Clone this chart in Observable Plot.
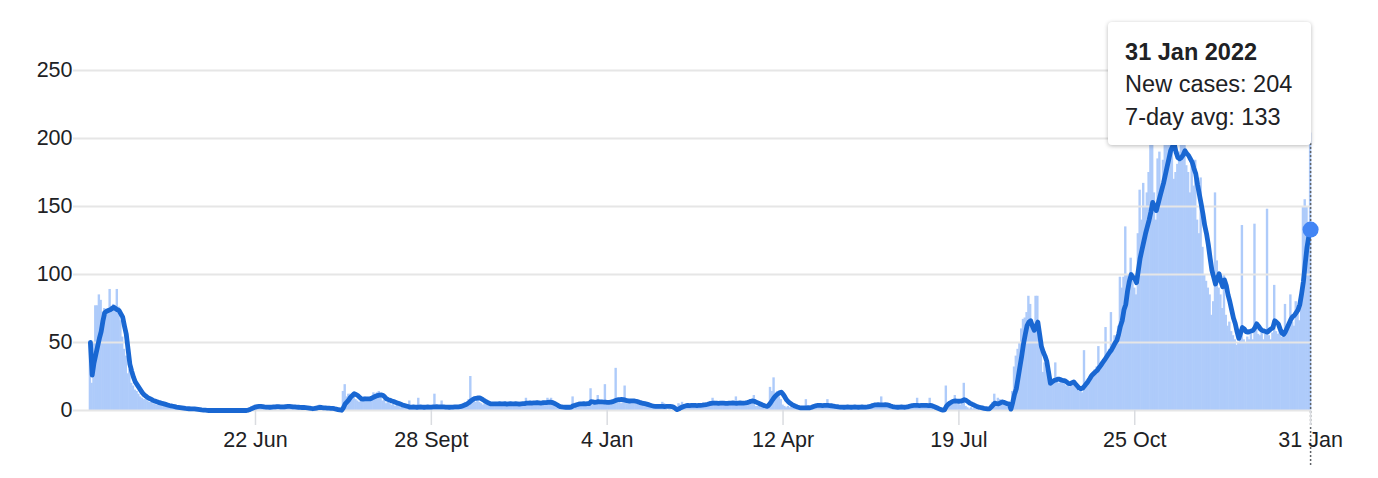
<!DOCTYPE html>
<html><head><meta charset="utf-8">
<script src="https://cdn.jsdelivr.net/npm/d3@7"></script>
<script src="https://cdn.jsdelivr.net/npm/@observablehq/plot@0.6"></script>
<style>
html,body{margin:0;padding:0;background:#fff;}
#wrap{position:relative;width:1378px;height:478px;font-family:"Liberation Sans",Arial,sans-serif;}
#tip{position:absolute;box-sizing:border-box;background:#fff;border-radius:4px;box-shadow:0 1px 4px rgba(0,0,0,0.28);color:#202124;font-size:23.5px;line-height:32.5px;padding:13.6px 17px 12px 17px;white-space:nowrap;}
#tip b{font-weight:bold;}
</style></head><body><div id="wrap"></div>
<script>
// first day of the series
const startDate = "2020-03-22";

// daily new cases, 22 Mar 2020 -> 31 Dec 2020
const cases2020 = [
  50,20,50,77,77,85,81,72,75,74,
  75,89,76,78,74,89,76,66,54,45,40,27,30,20,18,15,14,12,10,9,8,8,7,6,6,5,5,4,5,4,
  4,5,3,4,3,2,3,2,2,3,1,2,1,1,2,1,1,0,1,2,1,0,1,0,0,1,0,0,0,0,0,
  0,0,0,0,0,0,0,0,0,0,0,0,0,0,0,0,0,1,2,3,1,4,2,3,3,2,1,3,2,2,
  3,2,3,4,2,3,3,2,4,3,2,3,2,2,3,2,2,1,2,3,2,1,1,0,1,2,3,4,3,2,2,
  2,1,0,0,0,0,0,0,0,14,19,10,12,12,9,10,8,7,6,8,9,10,8,9,8,10,13,12,13,14,12,
  7,8,5,6,5,4,5,3,4,3,2,3,2,2,1,7,2,1,2,1,9,2,1,2,3,1,2,3,2,12,
  2,3,2,7,2,3,2,1,2,3,2,3,2,3,4,5,6,5,8,25,7,9,6,8,6,5,4,5,7,4,5,
  5,4,6,5,4,5,6,4,5,5,4,6,5,4,5,6,4,5,5,9,4,6,5,5,6,7,5,6,6,5,
  6,9,7,9,5,3,2,2,3,2,2,3,2,3,2,10,3,4,5,4,5,6,4,5,6,16,4,5,6,11,5
];
// daily new cases, 2021
const cases2021 = [
  5,4,19,6,5,6,7,5,31,6,7,5,6,18,6,7,8,6,7,6,5,7,5,4,5,4,3,4,3,4,3,
  3,4,3,6,5,1,0,1,0,1,0,1,5,4,6,3,4,3,4,5,3,4,3,4,5,3,4,5,
  5,4,6,9,5,4,6,5,6,5,4,6,5,6,5,4,10,6,5,6,5,6,5,7,6,6,11,3,3,3,2,
  2,1,1,5,17,14,24,13,14,10,8,4,3,2,3,2,4,3,2,1,2,3,2,1,8,2,1,2,3,4,
  4,3,5,4,3,4,8,3,4,3,2,3,2,3,2,2,3,2,3,2,3,2,3,2,3,2,2,3,2,3,4,
  5,4,4,3,5,10,4,3,4,2,3,2,3,2,3,2,2,3,3,2,4,3,4,3,5,9,3,4,3,4,
  3,4,9,3,2,1,0,1,0,0,1,18,4,5,6,7,11,5,6,4,8,20,3,2,1,2,1,2,1,1,0,
  1,2,1,1,2,4,6,12,5,9,8,5,6,5,4,5,3,14,32,40,45,50,60,67,68,72,84,78,65,60,84,
  84,60,48,28,35,30,25,18,20,22,35,22,20,24,20,22,18,20,17,18,22,20,16,14,15,13,44,17,18,22,
  25,28,30,32,47,30,35,38,61,40,45,72,50,55,51,62,98,90,98,135,100,95,112,100,90,85,130,162,140,167,150,
  160,175,200,210,160,140,185,190,160,184,200,215,205,210,210,170,175,181,190,200,205,210,180,175,160,184,165,184,140,130,
  171,120,100,95,90,85,70,80,160,110,90,85,75,100,70,62,65,58,55,52,48,50,55,136,52,50,54,52,56,52,137
];
// daily new cases, January 2022
const cases2022 = [
  60,56,55,57,52,56,148,55,52,57,92,58,56,60,54,56,78,62,60,85,65,62,80,75,66,85,150,155,150,127,204
];

// 7-day average
const avg2020 = [
  50,26,35,41,47,53,58,66,72,73,
  73.5,74,75,76,75,74,73.5,71,68.6,62,56,45,34,29,24.5,21,19,17,15,13,11.5,10.5,9.5,8.8,8.2,7.4,7,6.5,6,5.6,
  5.2,4.9,4.5,4.1,3.7,3.4,3.1,2.8,2.5,2.3,2.1,1.9,1.7,1.5,1.4,1.3,1.2,1.2,1.2,1,0.8,0.6,0.4,0.3,0.2,0.1,0,0,0,0,0,
  0,0,0,0,0,0,0,0,0,0,0,0,0,0,0,0,0,0.3,0.8,1.4,2,2.5,2.8,3,3,2.8,2.6,2.5,2.5,2.4,
  2.5,2.6,2.7,2.8,2.8,2.7,2.6,2.7,2.9,3,3,2.9,2.7,2.6,2.5,2.4,2.3,2.2,2.2,2.1,2,1.8,1.5,1.3,1.5,1.8,2.1,2.3,2.2,2,1.9,
  1.8,1.7,1.6,1.5,1.3,1,0.7,0.4,0.2,2,4.9,6.3,7.8,9.8,11,12.3,11.8,11,9.8,8.6,8.4,8.5,8.6,8.5,8.6,9.2,9.9,10.5,11,11.3,11.5,
  11.2,10,8.6,8,7.5,7,6.6,6.1,5.6,5.1,4.6,4.1,3.7,3.3,2.9,2.5,2.5,2.6,2.5,2.4,2.5,2.6,2.5,2.4,2.5,2.6,2.5,2.5,2.6,2.7,
  2.8,2.7,2.6,2.7,2.6,2.5,2.5,2.4,2.5,2.5,2.6,2.6,2.7,2.8,3.2,3.7,4.2,4.9,5.8,7,8,8.7,9,9.2,9.3,8.6,7.7,6.9,6.2,5.5,4.9,
  4.8,4.8,4.9,4.9,5,4.8,4.9,5,4.7,4.9,5,4.8,4.9,5,4.9,4.7,4.9,5,5.1,5.4,5.5,5.6,5.5,5.6,5.6,5.7,5.6,5.5,5.7,5.8,
  5.8,6,6.2,6,5.6,5,4.2,3.4,2.8,2.6,2.5,2.4,2.5,2.4,2.5,3.5,3.8,4.2,4.6,4.8,4.9,5,4.9,5,5.1,6.5,6.3,6,6.1,6.5,6.4
];
const avg2021 = [
  6.3,6.2,6.1,6,6,6.1,6.5,7,7.5,8,8,8.1,8,7.6,7.2,7,7,7.1,7,6.8,6.5,6,5.6,5.3,5,4.7,4.3,3.9,3.5,3.2,3,
  3,3,3.1,3,2.9,3,3.1,3,2.8,2.5,1.5,0.6,1.2,2,2.6,3.1,3.5,3.7,3.6,3.7,3.8,3.7,3.6,3.7,3.8,3.9,4.1,4.3,
  4.6,5,5.3,5.4,5.5,5.4,5.3,5.4,5.5,5.4,5.3,5.2,5.4,5.5,5.6,5.4,5.3,5.5,5.6,5.4,5.5,5.6,5.8,6.2,6.8,7,6.8,6.2,5.6,5,4.4,
  3.8,3.3,3,3.8,5.5,7.5,9.5,11,12,13,13.5,12,10,7.8,6.4,5.3,4.4,3.7,3.1,2.6,2.2,2,2,1.9,2,2.1,2,2.4,2.9,3.4,
  3.7,3.8,3.7,3.6,3.7,3.8,3.7,3.6,3.5,3.3,3,2.8,2.6,2.5,2.5,2.4,2.5,2.6,2.5,2.4,2.5,2.6,2.5,2.4,2.5,2.6,2.5,2.5,2.6,2.8,3.2,
  3.7,4.1,4.2,4.3,4.2,4.1,4.2,4.3,4.2,3.8,3.3,2.9,2.6,2.5,2.4,2.5,2.6,2.5,2.4,2.6,2.9,3.3,3.6,3.7,3.8,3.7,3.6,3.7,3.8,3.7,
  3.7,3.6,3.7,3.5,3,2.4,1.8,1.2,0.6,0.3,0.5,3,4.5,5.5,6.3,6.9,7,6.9,6.8,6.9,7.2,8,7.5,6.5,5.5,4.9,4.2,3.6,3,2.5,2.2,
  1.9,1.6,1.4,1.2,1.2,2.5,4,5.4,5,4.9,5.5,6.3,6,5.5,5,4.9,1,6,12,16,24,32,40,49,56,62.5,65,66,62,59,62,
  65,56,47,43,40,36,28,20,21,22,22.5,23,23,22.5,22,22,21,20,19.6,20.5,21,19.5,18,16.5,16,16.5,18,19.6,21.5,23.5,
  25.7,27,28.3,29.4,31.3,33,35,36.8,38.8,40.8,42.8,44.5,47,49.5,51.5,56,62,66,74,78,88,95,100,98,97,94,103,112,118,124,130,
  135,140,146,153,150,147,152,157,162,167,173,179,185,191,194,196,190,186,185,186,188,191,189,187.5,185,182.6,178,174,166,159,
  152,144.6,136,130,122,112,103,98,93,97,100.5,95,91,96,92,85,80,74,68,64,58,53,57,61,60,58,57.6,58,58.5,59,61
];
const avg2022 = [
  63.7,62,60,58.8,58.5,58,57.6,59,60,61,66,65,63.7,60,57,56,58,61,64,67,69,70,72,74,78,86,95,108,120,128,133
];

// axis ticks
const xTickDates = ["2020-06-22","2020-09-28","2021-01-04","2021-04-12","2021-07-19","2021-10-25","2022-01-31"];
const xTickLabels = ["22 Jun","28 Sept","4 Jan","12 Apr","19 Jul","25 Oct","31 Jan"];
const yTicks = [0, 50, 100, 150, 200, 250];

const cases = [...cases2020, ...cases2021, ...cases2022];
const avg = [...avg2020, ...avg2021, ...avg2022];
const t0 = new Date(startDate);
const data = cases.map((c, i) => {
  const date = d3.utcDay.offset(t0, i);
  return {date, cases: c, avg: avg[i], x1: d3.utcHour.offset(date, -12), x2: d3.utcHour.offset(date, 12)};
});
const last = data[data.length - 1];
const tickMap = new Map(xTickDates.map((d, i) => [+new Date(d), xTickLabels[i]]));

const plot = Plot.plot({
  width: 1378,
  height: 478,
  marginLeft: 73,
  marginRight: 67,
  marginTop: 70,
  marginBottom: 68,
  style: {fontFamily: "'Liberation Sans', Arial, sans-serif", fontSize: "21.5px", color: "#202124", background: "#fff", overflow: "visible"},
  x: {type: "utc", domain: [data[0].x1, last.x2], insetLeft: 16},
  y: {domain: [0, 250]},
  marks: [
    Plot.rectY(data, {x1: "x1", x2: "x2", y: "cases", fill: "#aecbfa", insetLeft: -0.3, insetRight: -0.3}),
    Plot.ruleY(yTicks, {stroke: "#e6e6e6", strokeWidth: 2}),
    Plot.lineY(data, {x: "date", y: "avg", stroke: "#1967d2", strokeWidth: 4.8, strokeLinejoin: "round", strokeLinecap: "round"}),
    Plot.ruleX([last], {x: "date", stroke: "#5f6368", strokeWidth: 1.5, strokeDasharray: "2,2", insetTop: 73, insetBottom: -55}),
    Plot.dot([last], {x: "date", y: "avg", r: 8, fill: "#4285f4"}),
    Plot.axisX(xTickDates.map(d => new Date(d)), {tickSize: 15, tickPadding: 6, stroke: "#dadce0", strokeWidth: 1.5, fill: "#202124", tickFormat: d => tickMap.get(+d), label: null}),
    Plot.axisY(yTicks, {tickSize: 0, tickPadding: 1, fill: "#202124", label: null})
  ]
});
const wrap = document.getElementById("wrap");
wrap.appendChild(plot);

// hover card for the last day
const xs = plot.scale("x");
const fmt = d3.utcFormat("%-d %b %Y");
const tip = document.createElement("div");
tip.id = "tip";
const right = xs.apply(last.date) + 1;
tip.style.left = (right - 203) + "px";
tip.style.top = "22px";
tip.style.width = "203px";
tip.style.height = "123px";
tip.innerHTML = `<b>${fmt(last.date)}</b><br>New cases: ${last.cases}<br>7-day avg: ${Math.round(last.avg)}`;
wrap.appendChild(tip);
</script></body></html>
